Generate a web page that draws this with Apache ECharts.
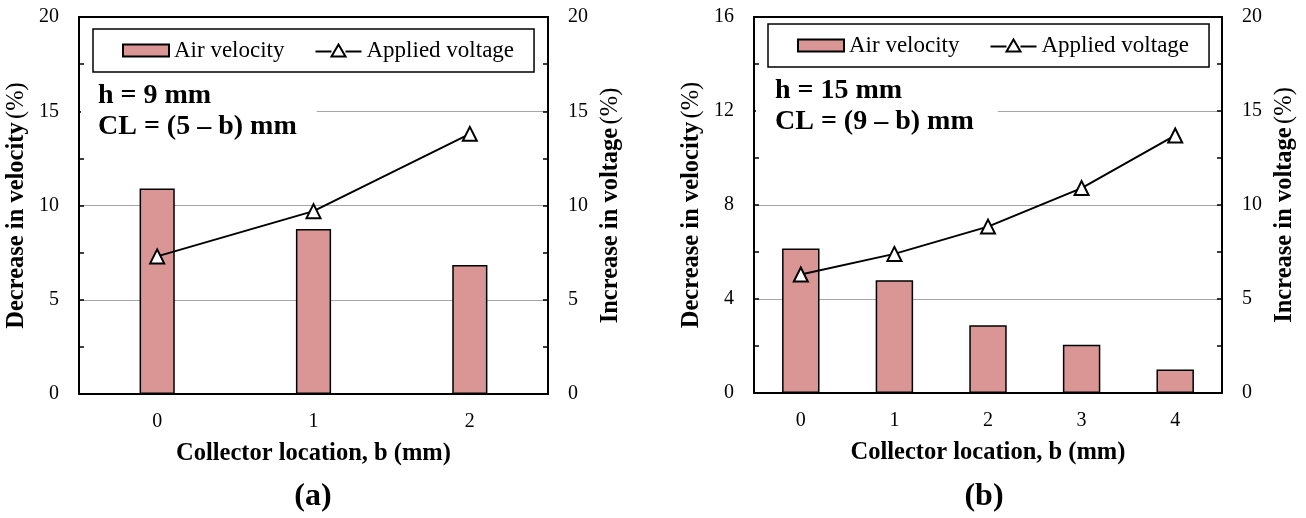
<!DOCTYPE html>
<html>
<head>
<meta charset="utf-8">
<script src="https://cdn.jsdelivr.net/npm/echarts@6/dist/echarts.min.js"></script>
<style>
  html, body { margin: 0; padding: 0; background: #fff; }
  #chart { width: 1306px; height: 518px; }
</style>
</head>
<body>
<div id="chart"></div>
<script>
// Panel (a): h = 9 mm
const categoriesA = ['0', '1', '2'];
const velocityA = [10.9, 8.75, 6.85];   // decrease in velocity (%)
const voltageA = [7.3, 9.7, 13.8];      // increase in voltage (%)

// Panel (b): h = 15 mm
const categoriesB = ['0', '1', '2', '3', '4'];
const velocityB = [6.15, 4.8, 2.88, 2.05, 1.0];
const voltageB = [6.3, 7.4, 8.85, 10.9, 13.7];

const seriesNames = ['Air velocity', 'Applied voltage'];
const yNameLeft = 'Decrease in velocity';
const yNameRight = 'Increase in voltage';
const xName = 'Collector location, b (mm)';
const notesA = ['h = 9 mm', 'CL = (5 – b) mm'];
const notesB = ['h = 15 mm', 'CL = (9 – b) mm'];
const panelLabels = ['(a)', '(b)'];

const FONT = '"Liberation Serif", "Times New Roman", serif';
const BAR_COLOR = '#d99694';
// legend glyph for the voltage series: a line with an open triangle in the middle
const LINE_ICON = 'path://M0,7H16M30,7H46M16,12L23,0L30,12Z';

function valueAxis(gridIndex, position, max, interval, name, showSplit) {
  return {
    type: 'value',
    gridIndex: gridIndex,
    position: position,
    min: 0,
    max: max,
    interval: interval,
    name: '{b|' + name + '} {r|(%)}',
    nameLocation: 'middle',
    nameRotate: 90,
    nameGap: 50,
    nameTextStyle: {
      rich: {
        b: { fontFamily: FONT, fontSize: 24.5, fontWeight: 'bold', color: '#000' },
        r: { fontFamily: FONT, fontSize: 24.5, fontWeight: 'normal', color: '#000' }
      }
    },
    axisLine: { show: true, onZero: false, lineStyle: { color: '#000', width: 2 } },
    axisTick: { show: true, inside: true, length: 5, lineStyle: { color: '#000', width: 1.5 } },
    minorTick: { show: true, splitNumber: 2, length: 5, lineStyle: { color: '#000', width: 1.5 } },
    axisLabel: { margin: 20, color: '#000', fontFamily: FONT, fontSize: 20 },
    splitLine: {
      show: showSplit,
      showMinLine: false,
      showMaxLine: false,
      lineStyle: { color: '#a6a6a6', width: 1 }
    },
    minorSplitLine: { show: false }
  };
}

function categoryAxis(gridIndex, data) {
  return {
    type: 'category',
    gridIndex: gridIndex,
    data: data,
    position: 'bottom',
    boundaryGap: true,
    name: xName,
    nameLocation: 'middle',
    nameGap: 47,
    nameTextStyle: { fontFamily: FONT, fontSize: 24.5, fontWeight: 'bold', color: '#000' },
    axisLine: { show: true, onZero: false, lineStyle: { color: '#000', width: 2 } },
    axisTick: { show: true, inside: true, alignWithLabel: true, length: 5, lineStyle: { color: '#000', width: 1.5 } },
    axisLabel: { margin: 18, color: '#000', fontFamily: FONT, fontSize: 20 },
    splitLine: { show: false }
  };
}

function barSeries(xi, yi, data, width) {
  return {
    type: 'bar',
    name: seriesNames[0],
    xAxisIndex: xi,
    yAxisIndex: yi,
    data: data,
    barWidth: width,
    itemStyle: { color: BAR_COLOR, borderColor: '#000', borderWidth: 1.5 },
    z: 2
  };
}

function lineSeries(xi, yi, data) {
  return {
    type: 'line',
    name: seriesNames[1],
    xAxisIndex: xi,
    yAxisIndex: yi,
    data: data,
    symbol: 'triangle',
    symbolSize: 14,
    showSymbol: true,
    lineStyle: { color: '#000', width: 2 },
    itemStyle: { color: '#fff', borderColor: '#000', borderWidth: 2 },
    z: 3
  };
}

function legendBox(left, top) {
  return {
    left: left,
    top: top,
    orient: 'horizontal',
    padding: [10, 20, 10, 29],
    itemGap: 30,
    itemWidth: 46,
    itemHeight: 12,
    borderColor: '#000',
    borderWidth: 1.5,
    backgroundColor: '#fff',
    selectedMode: false,
    textStyle: { fontFamily: FONT, fontSize: 23, color: '#000' },
    data: [
      { name: seriesNames[0], icon: 'rect' },
      { name: seriesNames[1], icon: LINE_ICON, itemStyle: { color: '#fff', borderColor: '#000', borderWidth: 2 } }
    ]
  };
}

function noteBox(lines, left, top, padding) {
  return {
    text: lines.join('\n'),
    left: left,
    top: top,
    padding: padding,
    backgroundColor: '#fff',
    textStyle: { fontFamily: FONT, fontSize: 28, fontWeight: 'bold', lineHeight: 31, color: '#000' }
  };
}

function panelLabel(text, x, y) {
  return {
    type: 'text',
    x: x,
    y: y,
    style: {
      text: text,
      font: 'bold 32px ' + FONT,
      fill: '#000',
      textAlign: 'center',
      textVerticalAlign: 'middle',
      align: 'center',
      verticalAlign: 'middle'
    }
  };
}

const chart = echarts.init(document.getElementById('chart'), null, { renderer: 'canvas' });

chart.setOption({
  backgroundColor: '#fff',
  animation: false,
  grid: [
    { left: 79, top: 17, width: 469, height: 377, show: true, borderColor: '#000', borderWidth: 2, backgroundColor: '#fff', containLabel: false },
    { left: 754, top: 17, width: 468, height: 376, show: true, borderColor: '#000', borderWidth: 2, backgroundColor: '#fff', containLabel: false }
  ],
  xAxis: [
    categoryAxis(0, categoriesA),
    categoryAxis(1, categoriesB)
  ],
  yAxis: [
    valueAxis(0, 'left', 20, 5, yNameLeft, true),
    valueAxis(0, 'right', 20, 5, yNameRight, false),
    valueAxis(1, 'left', 16, 4, yNameLeft, true),
    valueAxis(1, 'right', 20, 5, yNameRight, false)
  ],
  legend: [
    legendBox(93, 29),
    legendBox(768, 24)
  ],
  title: [
    noteBox(notesA, 81, 74, [6, 20, 4, 17]),
    noteBox(notesB, 756, 69, [6, 24, 4, 19])
  ],
  series: [
    barSeries(0, 0, velocityA, '22.5%'),
    lineSeries(0, 1, voltageA),
    barSeries(1, 2, velocityB, '40%'),
    lineSeries(1, 3, voltageB)
  ],
  graphic: [
    panelLabel(panelLabels[0], 313, 497),
    panelLabel(panelLabels[1], 984, 497)
  ]
});
</script>
</body>
</html>
